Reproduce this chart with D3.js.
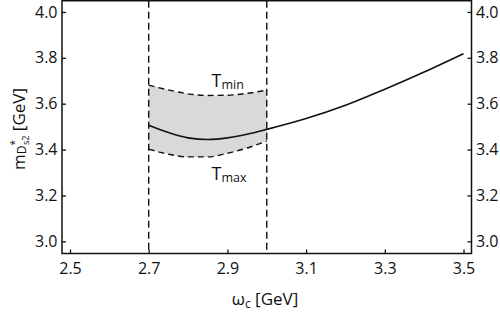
<!DOCTYPE html>
<html><head><meta charset="utf-8">
<script src="https://cdn.jsdelivr.net/npm/d3@7"></script>
<style>
html,body{margin:0;padding:0;background:#fff;}
svg text{font-family:"Open Sans",sans-serif;fill:#111;}
</style></head>
<body><svg id="c" width="500" height="312"></svg>
<script>
// ---- data ----
const omegaMain = [2.70, 2.75, 2.80, 2.85, 2.90, 2.95, 3.00, 3.10, 3.20, 3.30, 3.40, 3.50];
const massMain  = [3.506, 3.474, 3.451, 3.444, 3.451, 3.467, 3.488, 3.535, 3.593, 3.663, 3.738, 3.818];
const omegaBand = [2.70, 2.75, 2.80, 2.85, 2.90, 2.95, 3.00];
const massTmin  = [3.681, 3.660, 3.643, 3.636, 3.637, 3.645, 3.659];
const massTmax  = [3.402, 3.380, 3.368, 3.368, 3.384, 3.407, 3.437];
const windowLines = [2.7, 3.0];
const xTicks = [2.5, 2.7, 2.9, 3.1, 3.3, 3.5];
const yTicks = [3.0, 3.2, 3.4, 3.6, 3.8, 4.0];

// ---- layout ----
const L = 62, R = 471.5, T = 0.75, B = 253.5;
const svg = d3.select("#c");
const x = d3.scaleLinear().domain([2.4797, 3.5203]).range([L, R]);
const y = d3.scaleLinear().domain([2.9469, 4.0488]).range([B, T]);

// band
const band = omegaBand.map((w, i) => ({w, lo: massTmax[i], hi: massTmin[i]}));
svg.append("path").datum(band)
  .attr("fill", "#d9d9d9")
  .attr("d", d3.area().x(d => x(d.w)).y0(d => y(d.lo)).y1(d => y(d.hi)).curve(d3.curveMonotoneX));

const line = d3.line().curve(d3.curveMonotoneX);
// dashed band edges
[massTmin, massTmax].forEach(arr => {
  svg.append("path")
    .attr("d", line(omegaBand.map((w, i) => [x(w), y(arr[i])])))
    .attr("fill", "none").attr("stroke", "#111").attr("stroke-width", 1.4)
    .attr("stroke-dasharray", "6,4");
});
// main curve
svg.append("path")
  .attr("d", line(omegaMain.map((w, i) => [x(w), y(massMain[i])])))
  .attr("fill", "none").attr("stroke", "#111").attr("stroke-width", 1.6);

// vertical window lines
svg.selectAll("line.win").data(windowLines).enter().append("line")
  .attr("x1", d => x(d)).attr("x2", d => x(d))
  .attr("y1", T).attr("y2", B)
  .attr("stroke", "#111").attr("stroke-width", 1.4).attr("stroke-dasharray", "7,4");

// axes
function styleAxis(g) {
  g.select(".domain").remove();
  g.selectAll(".tick line").attr("stroke", "#111").attr("stroke-width", 1.3);
  g.selectAll(".tick text").style("font-size", "16px").attr("fill", "#111");
}
svg.append("g").attr("transform", `translate(0,${B})`)
  .call(d3.axisBottom(x).tickValues(xTicks).tickFormat(d3.format(".1f")).tickSizeInner(-4).tickSizeOuter(0).tickPadding(9))
  .call(styleAxis);
svg.append("g").attr("transform", `translate(${L},0)`)
  .call(d3.axisLeft(y).tickValues(yTicks).tickFormat(d3.format(".1f")).tickSizeInner(-4).tickSizeOuter(0).tickPadding(4.5))
  .call(styleAxis);
svg.append("g").attr("transform", `translate(${R},0)`)
  .call(d3.axisRight(y).tickValues(yTicks).tickFormat(d3.format(".1f")).tickSizeInner(-4).tickSizeOuter(0).tickPadding(4.5))
  .call(styleAxis);

// frame
svg.append("rect").attr("x", L).attr("y", T).attr("width", R - L).attr("height", B - T)
  .attr("fill", "none").attr("stroke", "#111").attr("stroke-width", 1.5);

// band labels
function tLabel(px, py, sub) {
  const t = svg.append("text").attr("x", px).attr("y", py).style("font-size", "18px");
  t.append("tspan").text("T");
  t.append("tspan").attr("dy", 2).style("font-size", "12.5px").text(sub);
}
tLabel(211.5, 86.5, "min");
tLabel(211.5, 180, "max");

// x label
const xl = svg.append("text").attr("x", 265).attr("y", 305).attr("text-anchor", "middle").style("font-size", "17px");
xl.append("tspan").text("ω");
xl.append("tspan").attr("dy", 3).style("font-size", "12px").text("c");
xl.append("tspan").attr("dy", -3).text(" [GeV]");

// y label
const yl = svg.append("text").attr("transform", "translate(25,129) rotate(-90)").attr("text-anchor", "middle").style("font-size", "17px");
yl.append("tspan").text("m");
yl.append("tspan").attr("dy", 1).style("font-size", "12px").text("D");
yl.append("tspan").attr("dy", -8).style("font-size", "10px").text("*");
yl.append("tspan").attr("dx", -5).attr("dy", 11).style("font-size", "9px").text("s2");
yl.append("tspan").attr("dy", -4).text(" [GeV]");
</script></body></html>
